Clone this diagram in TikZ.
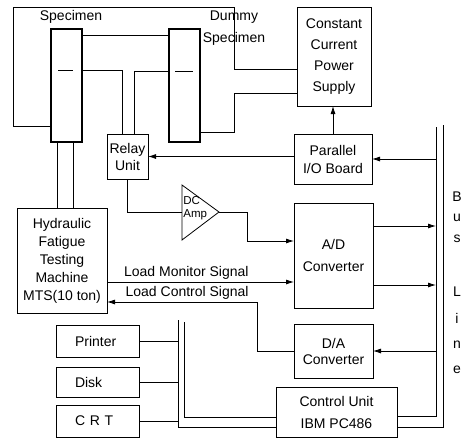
\documentclass[tikz,border=0pt]{standalone}
\usepackage{fontspec}
\setmainfont{Liberation Sans}
\usetikzlibrary{positioning,arrows.meta,calc}

\begin{document}
\begin{tikzpicture}[
x=1pt, y=-1pt,
line width=0.8pt,
font=\fontsize{14}{17}\selectfont,
box/.style={draw, align=center, inner sep=0pt, outer sep=0pt},
lead/.style={font=\fontsize{14}{#1}\selectfont},
spec/.style={draw, line width=2pt, minimum width=31pt, minimum height=113pt, inner sep=0pt, outer sep=0pt},
periph/.style={draw, inner sep=0pt, outer sep=0pt, minimum width=83pt, text width=45pt, align=left},
arrow/.style={-{Latex[length=8pt,width=5pt]}}
]
\useasboundingbox (0,0) rectangle (464,439);

% specimens
\node[spec] (spec) at (66.5,85.5) {};
\node[spec] (dummy) at (184.5,85.5) {};
\node (speclabel) at (71,17) {Specimen};
\node[lead=22, align=center] (dumlabel) at (234,28) {Dummy\\Specimen};
\draw ([shift={(-8.5pt,15.5pt)}]spec.center) -- ++(15,0);
\draw ([shift={(-9.5pt,14.5pt)}]dummy.center) -- ++(18,0);

% boxes
\node[box, lead=21, minimum width=74pt, minimum height=99pt] (ccps) at (334,56.5) {Constant\\Current\\Power\\Supply};
\node[box, lead=18, minimum width=78pt, minimum height=50pt] (pio) at (333,159) {Parallel\\I/O Board};
\node[box, lead=22, minimum width=79pt, minimum height=105pt] (ad) at (333.5,255.5) {A/D\\Converter};
\node[box, lead=16, minimum width=79pt, minimum height=54pt] (da) at (333.5,351) {D/A\\Converter};
\node[box, lead=22, minimum width=121pt, minimum height=50pt] (cu) at (336.5,412) {Control Unit\\IBM PC486};
\node[box, lead=18, minimum width=90pt, minimum height=105pt] (hyd) at (62,260.5) {Hydraulic\\Fatigue\\Testing\\Machine\\MTS(10 ton)};
\node[box, lead=17, minimum width=41pt, minimum height=45pt] (relay) at (127.5,156.5) {Relay\\Unit};

% peripherals
\node[periph, minimum height=32pt] (printer) at (97.5,341) {Printer};
\node[periph, minimum height=30pt] (disk) at (97.5,382) {Disk};
\node[periph, minimum height=32pt] (crt) at (97.5,421) {C R T};

% DC amplifier
\coordinate (ampin) at (182,212);
\coordinate (ampout) at (219,212);
\draw ([yshift=27pt]ampin) -- (ampout) -- ([yshift=-28pt]ampin) -- cycle;
\node[font=\fontsize{11.5}{13}\selectfont, align=left, anchor=west, inner sep=1pt] (amplabel) at (182,208.5) {DC\\Amp};

% bus line
\coordinate (busa) at (436,127);
\coordinate (busb) at (443,125);
\foreach \ch/\yy in {B/197,u/218,s/239,L/292,i/318,n/345,e/370}
  \node (bus\ch) at (457,\yy) {\ch};
\draw (busa) |- (cu.east |- 0,416);
\draw (busb) |- (cu.east |- 0,427);
\coordinate (lbusa) at (178,320);
\coordinate (lbusb) at (184,322);
\draw (lbusa) |- (cu.west |- 0,427);
\draw (lbusb) |- (cu.west |- 0,417);
\draw (printer.east) -- (lbusa |- printer.east);
\draw (disk.east) -- (lbusa |- disk.east);
\draw (crt.east) -- (lbusa |- crt.east);

% specimen wiring
\draw ([yshift=16pt]spec.south west) -| (13,7) -| (234,69) -- (ccps.west |- 0,69);
\draw ([yshift=-6pt]spec.north east) -- ([yshift=-6pt]dummy.north west);
\draw ([yshift=15.5pt]spec.east) -| ([xshift=-5.5pt]relay.north);
\draw ([yshift=14.5pt]dummy.west) -| ([xshift=6.5pt]relay.north);
\draw ([yshift=-46.5pt]dummy.east) -| (234,93) -- (ccps.west |- 0,93);
\draw ([xshift=-9.5pt]spec.south) -- ([xshift=-9.5pt]spec.south |- hyd.north);
\draw ([xshift=6.5pt]spec.south) -- ([xshift=6.5pt]spec.south |- hyd.north);

% signals
\draw[arrow] (pio.north) -- (pio.north |- ccps.south);
\draw[arrow] (pio.west |- relay.east) -- (relay.east);
\draw[arrow] (busa |- pio.east) -- (pio.east);
\draw (relay.south) |- (ampin);
\draw[arrow] (ampout) -| (247,241) -- (ad.west |- 0,241);
\draw[arrow] ([yshift=29.5pt]ad.east) -- (busa |- 0,226);
\draw[arrow] ([yshift=-29.5pt]ad.east) -- (busa |- 0,285);
\draw[arrow] (busa |- da.east) -- (da.east);
\draw[arrow] (hyd.east |- 0,282) -- (ad.west |- 0,282);
\draw[arrow] (da.west) -| (257,302) -- (hyd.east |- 0,302);
\node[anchor=south east, inner sep=1pt] (lmslabel) at (250,281) {Load Monitor Signal};
\node[anchor=south east, inner sep=1pt] (lcslabel) at (250,301) {Load Control Signal};
\end{tikzpicture}
\end{document}
